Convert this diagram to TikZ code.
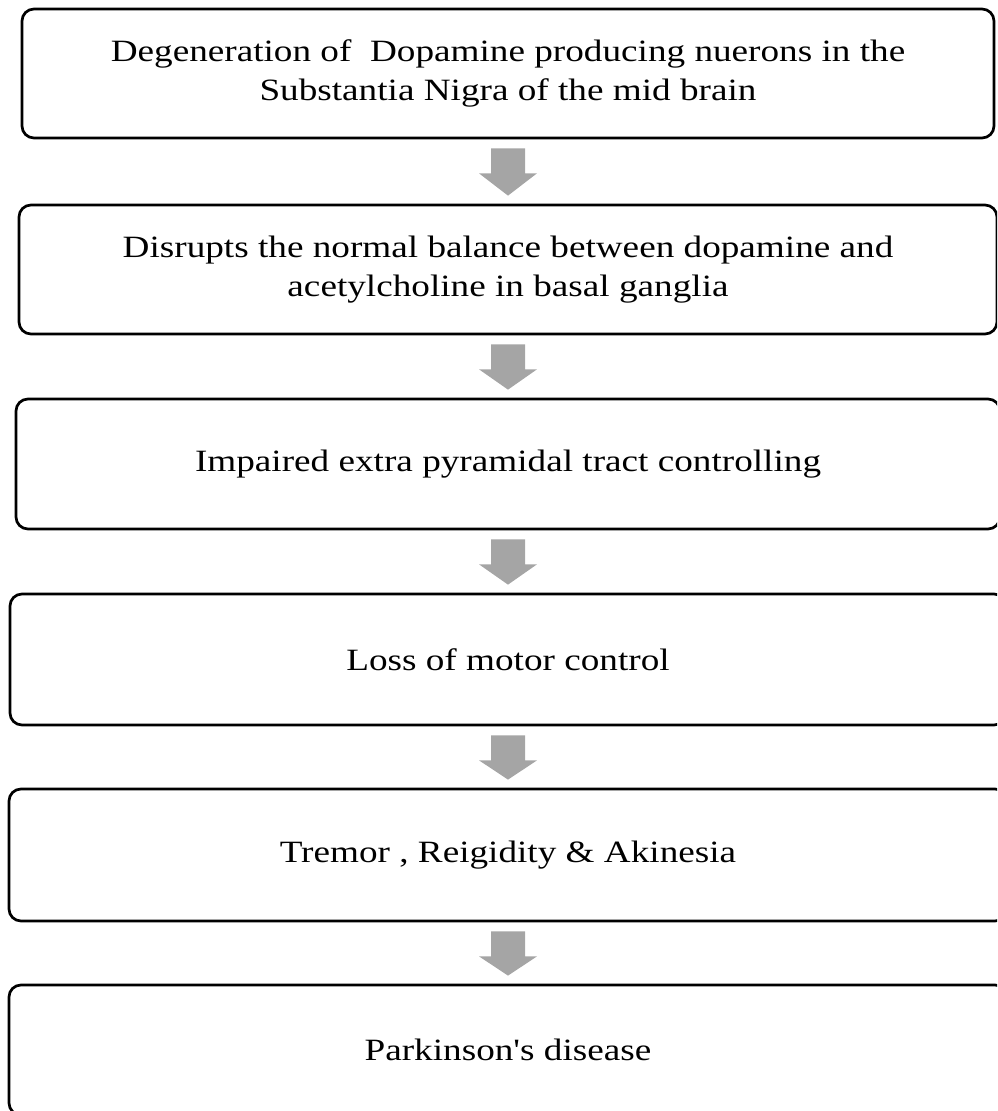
\documentclass[tikz,border=0pt]{standalone}
\usepackage{fontspec}
\setmainfont{Liberation Serif}[FakeStretch=1.2, Ligatures=TeXOff]
\usetikzlibrary{calc}
\definecolor{arrowgray}{HTML}{A5A5A5}
\newcommand\flowarrow[2]{%
  \fill[blockarrow] ($(#1.south)+(-17,-9)$) -- ($(#1.south)+(17,-9)$)
    -- ($(#1.south)+(17,-34)$) -- ($(#1.south)+(29,-34)$)
    -- ($(#2.north)+(0,8)$)
    -- ($(#1.south)+(-29,-34)$) -- ($(#1.south)+(-17,-34)$) -- cycle;}
\begin{document}
\begin{tikzpicture}[x=1pt,y=1pt,
  box/.style={draw=black, line width=2.7pt, rounded corners=12pt, align=center,
    font=\fontsize{31}{38.6}\selectfont, inner sep=0pt},
  blockarrow/.style={fill=arrowgray, draw=none}]
\useasboundingbox (0,0) rectangle (997,1111);
\clip (0,0) rectangle (997,1111);
\node[box, minimum width=972pt, minimum height=129pt] (b1) at (508,1037.5)
  {Degeneration of~ Dopamine producing nuerons in the\\Substantia Nigra of the mid brain};
\node[box, minimum width=978pt, minimum height=129pt] (b2) at (508,841.5)
  {Disrupts the normal balance between dopamine and\\acetylcholine in basal ganglia};
\node[box, minimum width=984pt, minimum height=130pt] (b3) at (508,647)
  {Impaired extra pyramidal tract controlling};
\node[box, minimum width=996pt, minimum height=131pt] (b4) at (508,451.5)
  {Loss of motor control};
\node[box, minimum width=998pt, minimum height=132pt] (b5) at (508,256)
  {Tremor , Reigidity \& Akinesia};
\node[box, minimum width=998pt, minimum height=130pt] (b6) at (508,61)
  {Parkinson's disease};
\flowarrow{b1}{b2}
\flowarrow{b2}{b3}
\flowarrow{b3}{b4}
\flowarrow{b4}{b5}
\flowarrow{b5}{b6}
\end{tikzpicture}
\end{document}
